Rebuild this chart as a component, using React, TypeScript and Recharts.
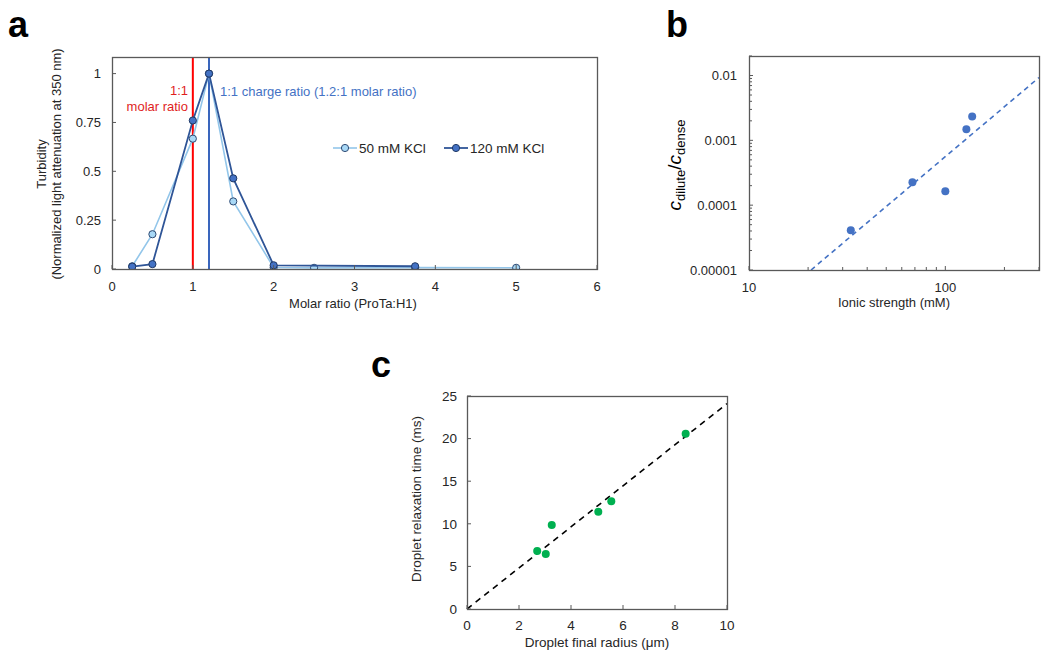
import React from 'react';
import { ScatterChart, Scatter, XAxis, YAxis, ReferenceLine } from 'recharts';

// panel a: turbidity vs molar ratio
const ratio50 = [0.25, 0.5, 1, 1.2, 1.5, 2, 2.5, 3.75, 5];
const turb50 = [0.014, 0.178, 0.667, 1.0, 0.346, 0.008, 0.006, 0.007, 0.006];
const ratio120 = [0.25, 0.5, 1, 1.2, 1.5, 2, 3.75];
const turb120 = [0.012, 0.025, 0.76, 1.0, 0.464, 0.019, 0.014];
const aXTicks = [0, 1, 2, 3, 4, 5, 6];
const aYTicks = [0, 0.25, 0.5, 0.75, 1];

// panel b: dilute/dense ratio vs ionic strength (log-log)
const ionic = [33, 68, 100, 128, 137];
const cRatio = [4.1e-5, 2.26e-4, 1.64e-4, 1.48e-3, 2.34e-3];
const fitIonic = [20.7, 300];
const fitRatio = [1e-5, 0.0093];
const bXTicks = [10, 20, 30, 40, 50, 60, 70, 80, 90, 100, 200, 300];
const bYDecades = [1e-5, 1e-4, 1e-3, 1e-2];
const bYLabels = ['0.00001', '0.0001', '0.001', '0.01'];

// panel c: relaxation time vs droplet radius
const radius = [2.7, 3.03, 3.26, 5.05, 5.55, 8.41];
const relax = [6.82, 6.47, 9.87, 11.4, 12.66, 20.57];
const fitRadius = [0, 10];
const fitRelax = [0, 24.1];
const cXTicks = [0, 2, 4, 6, 8, 10];
const cYTicks = [0, 5, 10, 15, 20, 25];

const FONT = '"Liberation Sans", Arial, sans-serif';
const AXIS = '#595959';
const TXT = '#262626';

const pts = (xs: number[], ys: number[]) => xs.map((x, i) => ({ x, y: ys[i] }));

const bYTicks = bYDecades.flatMap((d) => (d < 0.01 ? [1, 2, 3, 4, 5, 6, 7, 8, 9].map((m) => m * d) : [d, 2 * d]));
const isDecade = (v: number) => Math.abs(Math.log10(v) - Math.round(Math.log10(v))) < 1e-6;

const xTick = (fmt: (v: number) => string, fs: number, gap: number, major?: (v: number) => boolean) => (p: any) => {
  const v = p.payload.value;
  const mj = major ? major(v) : true;
  return (
    <g>
      <line x1={p.x} x2={p.x} y1={p.y} y2={p.y - (mj ? 4 : 3)} stroke={AXIS} />
      {mj && (
        <text x={p.x} y={p.y + gap} textAnchor="middle" fontSize={fs} fill={TXT} fontFamily={FONT}>
          {fmt(v)}
        </text>
      )}
    </g>
  );
};

const yTick = (fmt: (v: number) => string, fs: number, gap: number, major?: (v: number) => boolean) => (p: any) => {
  const v = p.payload.value;
  const mj = major ? major(v) : true;
  return (
    <g>
      <line x1={p.x} x2={p.x + (mj ? 4 : 3)} y1={p.y} y2={p.y} stroke={AXIS} />
      {mj && (
        <text x={p.x - gap} y={p.y + fs * 0.36} textAnchor="end" fontSize={fs} fill={TXT} fontFamily={FONT}>
          {fmt(v)}
        </text>
      )}
    </g>
  );
};

const dot = (r: number, fill: string, stroke?: string) => (p: any) => (
  <circle cx={p.cx} cy={p.cy} r={r} fill={fill} stroke={stroke || 'none'} strokeWidth={1} />
);
const noDot = () => <g />;

const axisProps = { tickSize: 0, tickMargin: 0, tickLine: false, axisLine: false, interval: 0 as const };

export default function App() {
  return (
    <div style={{ position: 'absolute', left: 0, top: 0, width: 1050, height: 660, background: '#fff', fontFamily: FONT }}>
      {/* a */}
      <div style={{ position: 'absolute', left: 0, top: 0 }}>
        <ScatterChart width={620} height={320} margin={{ top: 57, right: 23, left: 62, bottom: 21 }}>
          <XAxis type="number" dataKey="x" domain={[0, 6]} ticks={aXTicks} height={30} {...axisProps}
            tick={xTick((v) => String(v), 13, 22)} />
          <YAxis type="number" dataKey="y" domain={[0, 1.085]} ticks={aYTicks} width={50} {...axisProps}
            allowDataOverflow tick={yTick((v) => String(v), 13, 11)} />
          <ReferenceLine x={1} stroke="#ff0000" strokeWidth={2} />
          <ReferenceLine x={1.2} stroke="#3a66bd" strokeWidth={2} />
          <Scatter data={pts(ratio50, turb50)} isAnimationActive={false} line={{ stroke: '#93c6ea', strokeWidth: 1.6 }}
            lineType="joint" shape={dot(3.6, '#a8d8f6', '#2e4a73')} />
          <Scatter data={pts(ratio120, turb120)} isAnimationActive={false} line={{ stroke: '#2f5597', strokeWidth: 1.8 }}
            lineType="joint" shape={dot(3.6, '#4472c4', '#1f3864')} />
        </ScatterChart>
      </div>

      {/* b */}
      <div style={{ position: 'absolute', left: 620, top: 0 }}>
        <ScatterChart width={430} height={320} margin={{ top: 56, right: 11, left: 69, bottom: 20 }}>
          <XAxis type="number" dataKey="x" scale="log" domain={[10, 300]} ticks={bXTicks} height={30} allowDataOverflow
            {...axisProps} tick={xTick((v) => String(v), 13, 22, (v) => v === 10 || v === 100)} />
          <YAxis type="number" dataKey="y" scale="log" domain={[1e-5, 0.02]} ticks={bYTicks} width={60} allowDataOverflow
            {...axisProps}
            tick={yTick((v) => bYLabels[Math.round(Math.log10(v)) + 5] || '', 13, 12, isDecade)} />
          <Scatter data={pts(fitIonic, fitRatio)} isAnimationActive={false}
            line={{ stroke: '#4472c4', strokeWidth: 1.6, strokeDasharray: '5 4' }} lineType="joint" shape={noDot} />
          <Scatter data={pts(ionic, cRatio)} isAnimationActive={false} shape={dot(4, '#4472c4')} />
        </ScatterChart>
      </div>

      {/* c */}
      <div style={{ position: 'absolute', left: 380, top: 320 }}>
        <ScatterChart width={380} height={340} margin={{ top: 76, right: 33, left: 47, bottom: 21 }}>
          <XAxis type="number" dataKey="x" domain={[0, 10]} ticks={cXTicks} height={30} {...axisProps}
            tick={xTick((v) => String(v), 13.5, 21)} />
          <YAxis type="number" dataKey="y" domain={[0, 25]} ticks={cYTicks} width={40} {...axisProps}
            tick={yTick((v) => String(v), 13.5, 10)} />
          <Scatter data={pts(fitRadius, fitRelax)} isAnimationActive={false}
            line={{ stroke: '#000', strokeWidth: 1.6, strokeDasharray: '6 5' }} lineType="joint" shape={noDot} />
          <Scatter data={pts(radius, relax)} isAnimationActive={false} shape={dot(4, '#00b050')} />
        </ScatterChart>
      </div>

      {/* frames and text overlay */}
      <svg width={1050} height={660} style={{ position: 'absolute', left: 0, top: 0, pointerEvents: 'none' }} fontFamily={FONT}>
        <rect x={112.5} y={57.5} width={485} height={212} fill="none" stroke={AXIS} strokeWidth={1.3} />
        <rect x={749.5} y={56.5} width={290} height={214} fill="none" stroke={AXIS} strokeWidth={1.3} />
        <rect x={467.5} y={396.5} width={260} height={213} fill="none" stroke={AXIS} strokeWidth={1.3} />

        <text x={8} y={37} fontSize={36} fontWeight="bold" fill="#000">a</text>
        <text x={666} y={37} fontSize={36} fontWeight="bold" fill="#000">b</text>
        <text x={371} y={377} fontSize={36} fontWeight="bold" fill="#000">c</text>

        <text transform="translate(46,164) rotate(-90)" textAnchor="middle" fontSize={13} fill={TXT}>Turbidity</text>
        <text transform="translate(61,164) rotate(-90)" textAnchor="middle" fontSize={13} fill={TXT}>
          (Normalized light attenuation at 350 nm)
        </text>
        <text x={353} y={308} textAnchor="middle" fontSize={13} fill={TXT}>Molar ratio (ProTa:H1)</text>
        <text x={188} y={95} textAnchor="end" fontSize={13} fill="#e01e1e">1:1</text>
        <text x={188} y={111} textAnchor="end" fontSize={13} fill="#e01e1e">molar ratio</text>
        <text x={220} y={96} fontSize={13} fill="#4472c4">1:1 charge ratio (1.2:1 molar ratio)</text>

        <line x1={333} x2={357} y1={148} y2={148} stroke="#93c6ea" strokeWidth={1.6} />
        <circle cx={345} cy={148} r={3.6} fill="#a8d8f6" stroke="#2e4a73" />
        <text x={359} y={153} fontSize={13.5} fill={TXT}>50 mM KCl</text>
        <line x1={444} x2={468} y1={148} y2={148} stroke="#2f5597" strokeWidth={1.8} />
        <circle cx={456} cy={148} r={3.6} fill="#4472c4" stroke="#1f3864" />
        <text x={470} y={153} fontSize={13.5} fill={TXT}>120 mM KCl</text>

        <text transform="translate(681,165) rotate(-90)" textAnchor="middle" fontSize={19} fill="#000">
          <tspan fontStyle="italic">c</tspan>
          <tspan fontSize={13} dy={4}>dilute</tspan>
          <tspan dy={-4}>/</tspan>
          <tspan fontStyle="italic">c</tspan>
          <tspan fontSize={13} dy={4}>dense</tspan>
        </text>
        <text x={894} y={307} textAnchor="middle" fontSize={13} fill={TXT}>Ionic strength (mM)</text>

        <text transform="translate(421,499) rotate(-90)" textAnchor="middle" fontSize={13.5} fill={TXT}>
          Droplet relaxation time (ms)
        </text>
        <text x={597} y={647} textAnchor="middle" fontSize={13.5} fill={TXT}>Droplet final radius (μm)</text>
      </svg>
    </div>
  );
}
